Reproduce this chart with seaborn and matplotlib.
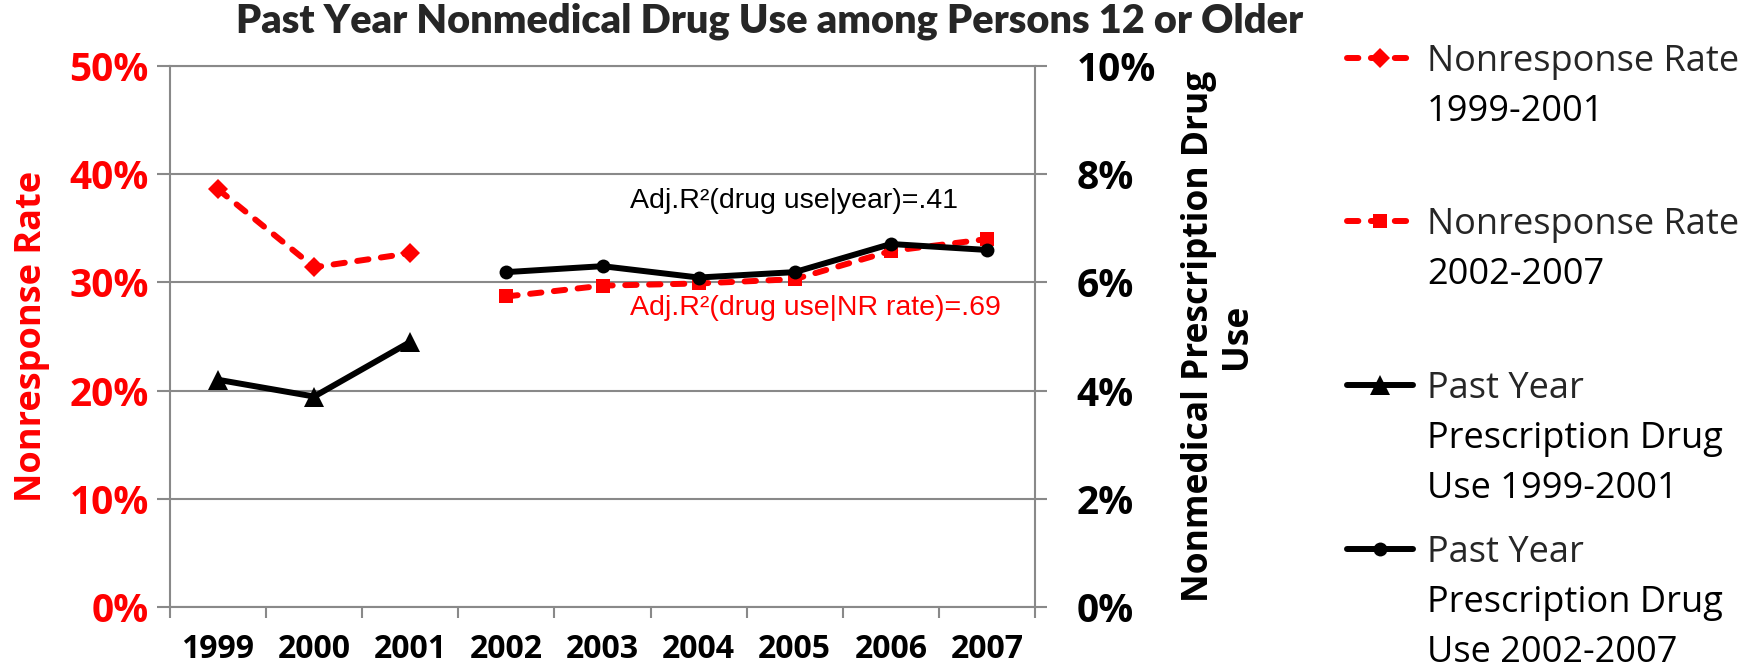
import matplotlib
matplotlib.use("Agg")
import matplotlib.pyplot as plt
import numpy as np
import pandas as pd
import seaborn as sns

# ---- data -------------------------------------------------------------
years_early = [1999, 2000, 2001]
years_late = [2002, 2003, 2004, 2005, 2006, 2007]
all_years = years_early + years_late

nonresponse_early = [38.6, 31.4, 32.7]               # % (left axis)
nonresponse_late = [28.7, 29.7, 29.9, 30.3, 32.9, 34.0]
drug_use_early = [4.20, 3.89, 4.90]                  # % (right axis)
drug_use_late = [6.19, 6.30, 6.09, 6.19, 6.71, 6.60]

left_ticks = [0, 10, 20, 30, 40, 50]
right_ticks = [0, 2, 4, 6, 8, 10]

legend_labels = [
    ["Nonresponse Rate", "1999-2001"],
    ["Nonresponse Rate", "2002-2007"],
    ["Past Year", "Prescription Drug", "Use 1999-2001"],
    ["Past Year", "Prescription Drug", "Use 2002-2007"],
]
note_year = "Adj.R\u00b2(drug use|year)=.41"
note_nr = "Adj.R\u00b2(drug use|NR rate)=.69"
title = "Past Year Nonmedical Drug Use among Persons 12 or Older"

# ---- style ------------------------------------------------------------
sns.set_theme(style="white")
plt.rcParams["font.family"] = ["Open Sans", "DejaVu Sans"]
GRAY = "#898989"
RED = "#FF0000"
W, H = 1749, 671
LW = 4.3

fig = plt.figure(figsize=(W / 100, H / 100), dpi=100)
ax = fig.add_axes([170 / W, (H - 607) / H, 865 / W, (607 - 66) / H])
ax2 = ax.twinx()

nr_early = pd.DataFrame({"year": years_early, "rate": nonresponse_early})
nr_late = pd.DataFrame({"year": years_late, "rate": nonresponse_late})
du_early = pd.DataFrame({"year": years_early, "use": drug_use_early})
du_late = pd.DataFrame({"year": years_late, "use": drug_use_late})

dash = (0, (1.9, 2.1))
sns.lineplot(data=nr_early, x="year", y="rate", ax=ax, color=RED, lw=LW,
             linestyle=dash, dash_capstyle="round", marker="D", markersize=10,
             markeredgewidth=0, markeredgecolor=RED, zorder=3)
sns.lineplot(data=nr_late, x="year", y="rate", ax=ax, color=RED, lw=LW,
             linestyle=dash, dash_capstyle="round", marker="s", markersize=10,
             markeredgewidth=0, markeredgecolor=RED, zorder=3)
sns.lineplot(data=du_early, x="year", y="use", ax=ax2, color="black", lw=LW,
             marker="^", markersize=14, markeredgewidth=0,
             markeredgecolor="black", zorder=3)
sns.lineplot(data=du_late, x="year", y="use", ax=ax2, color="black", lw=LW,
             marker="o", markersize=10, markeredgewidth=0,
             markeredgecolor="black", zorder=3)

# ---- axes -------------------------------------------------------------
ax.set_xlim(all_years[0] - 0.5, all_years[-1] + 0.5)
ax.set_ylim(0, 50)
ax2.set_ylim(0, 10)
ax.set_xticks(all_years)
ax.set_xticklabels([str(y) for y in all_years])
ax.set_xticks(np.arange(all_years[0] - 0.5, all_years[-1] + 1), minor=True)
ax.set_yticks(left_ticks)
ax.set_yticklabels([f"{v}%" for v in left_ticks])
ax2.set_yticks(right_ticks)
ax2.set_yticklabels([f"{v}%" for v in right_ticks])

ax.grid(axis="y", color=GRAY, lw=1.5)
ax.grid(axis="x", visible=False)
ax.set_axisbelow(True)
for side in ["left", "bottom", "top"]:
    ax.spines[side].set_visible(True)
    ax.spines[side].set_color(GRAY)
    ax.spines[side].set_linewidth(1.5)
ax.spines["right"].set_visible(False)
for side in ["left", "bottom", "top"]:
    ax2.spines[side].set_visible(False)
ax2.spines["right"].set_color(GRAY)
ax2.spines["right"].set_linewidth(1.5)
ax2.grid(False)

ax.tick_params(axis="x", which="major", length=0, pad=19, labelsize=23,
               labelcolor="black")
ax.tick_params(axis="x", which="minor", direction="out", length=8,
               width=1.5, color=GRAY, bottom=True)
ax.tick_params(axis="y", direction="out", length=9.4, width=1.5, color=GRAY,
               pad=6, labelsize=28, labelcolor=RED, left=True)
ax2.tick_params(axis="y", direction="out", length=8.6, width=1.5, color=GRAY,
                pad=21.5, labelsize=28, labelcolor="black", right=True)
for lab in ax.get_xticklabels() + ax.get_yticklabels() + ax2.get_yticklabels():
    lab.set_fontweight("bold")
for lab in ax2.get_yticklabels():
    lab.set_horizontalalignment("left")

ax.set_xlabel("")
ax.set_ylabel("Nonresponse Rate", color=RED, fontsize=26, fontweight="bold")
ax.yaxis.set_label_coords(-0.139, 0.5)
ax2.set_ylabel("Nonmedical Prescription Drug\nUse", color="black",
               fontsize=25.5, fontweight="bold", linespacing=1.05)
ax2.yaxis.set_label_coords(1.169, 0.5)

# regression notes
ax.text(2003.29, 37.5, note_year, color="black", fontsize=20.5,
        family="Liberation Sans", ha="left", va="center")
ax.text(2003.29, 27.6, note_nr, color=RED, fontsize=20.5,
        family="Liberation Sans", ha="left", va="center")

fig.text(770 / W, 1 - 21 / H, title, ha="center", va="center",
         fontsize=28.5, fontweight="heavy", family=["Lato", "DejaVu Sans"])

# ---- legend: one entry per block, first line beside the key ---------------
handles = [ax.lines[0], ax.lines[1], ax2.lines[0], ax2.lines[1]]
entry_rows = [62, 225, 389, 553]
row_gap = 50
leg_fs = 26
em = leg_fs * 100 / 72
legends = []
for h, labels, row in zip(handles, legend_labels, entry_rows):
    leg = fig.legend(handles=[h], labels=[labels[0]], loc="center left",
                     bbox_to_anchor=(1347 / W, 1 - row / H), frameon=False,
                     fontsize=leg_fs, handlelength=66 / em,
                     handletextpad=14 / em, borderpad=0, borderaxespad=0)
    legends.append(leg)

fig.canvas.draw()
for leg, labels, row in zip(legends, legend_labels, entry_rows):
    bb = leg.get_texts()[0].get_window_extent()
    x0 = bb.x0 / fig.bbox.width
    for k, extra in enumerate(labels[1:], start=1):
        fig.text(x0, 1 - (row + k * row_gap) / H, extra, fontsize=leg_fs,
                 ha="left", va="center", color="black")

fig.savefig("out.png", dpi=100)
